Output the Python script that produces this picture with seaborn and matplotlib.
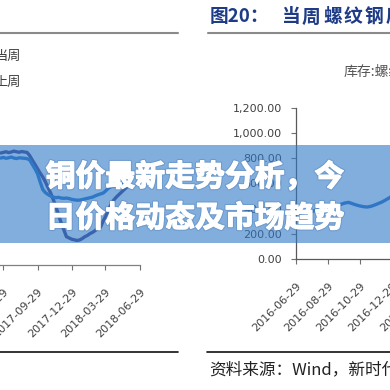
import numpy as np
import pandas as pd
import matplotlib
matplotlib.use('Agg')
import matplotlib.pyplot as plt
import matplotlib.patheffects as pe
from matplotlib.patches import Rectangle
from matplotlib.lines import Line2D
from matplotlib.ticker import FuncFormatter
import seaborn as sns

# left chart (weekly, partly cut off on the left)
left_dates = pd.date_range('2017-06-23', periods=49, freq='7D')
this_week = [890, 895, 900, 893, 898, 905, 900, 896, 902, 898,
             895, 870, 834, 800, 765, 730, 699, 660, 615, 572,
             520, 460, 400, 334, 280, 225, 215, 205, 200, 195,
             199, 210, 225, 235, 250, 260, 275, 290, 302, 350,
             390, 440, 480, 516, 540, 560, 580, 600, 620]
last_week = [850, 855, 848, 852, 858, 850, 846, 852, 850, 848,
             845, 836, 800, 765, 725, 660, 600, 575, 560, 548,
             540, 535, 538, 532, 530, 532, 528, 522, 518, 515,
             516, 520, 525, 530, 535, 540, 550, 558, 565, 572,
             590, 610, 622, 628, 632, 636, 640, 645, 650]
left_ticks = ['2017-06-29', '2017-09-29', '2017-12-29', '2018-03-29', '2018-06-29']
legend_labels = ['当周', '上周']

# right chart: rebar inventory
right_dates = pd.date_range('2016-07-01', periods=30, freq='7D')
stock = [360, 365, 372, 370, 378, 385, 390, 396, 402, 410,
         418, 425, 435, 445, 450, 440, 430, 422, 416, 413,
         418, 428, 440, 452, 468, 485, 505, 530, 560, 600]
right_ticks = ['2016-06-29', '2016-08-29', '2016-10-29', '2016-12-29',
               '2017-02-28', '2017-04-29', '2017-06-29']
y_ticks = [0, 200, 400, 600, 800, 1000, 1200]

title_no = '图20：'
title_text = '当周螺纹钢库存'
banner_lines = ['铜价最新走势分析，今', '日价格动态及市场趋势']

sns.set_theme(style='ticks')
plt.rcParams['font.family'] = ['DejaVu Sans']
cjk = ['Noto Sans CJK SC', 'DejaVu Sans']

W = 390.0


def fx(px):
    return px / W


def fy(py):
    return 1 - py / W


fig = plt.figure(figsize=(3.9, 3.9), dpi=100)
fig.patch.set_facecolor('white')

tick_kw = dict(labelsize=8, labelcolor='#404040', length=3.6, width=0.8, color='#707070')

# left chart
ax1 = fig.add_axes([fx(0), fy(265), fx(140), 151 / W])
sns.lineplot(x=left_dates, y=this_week, ax=ax1, color='#4a4585', lw=2.4)
sns.lineplot(x=left_dates, y=last_week, ax=ax1, color='#2f78c2', lw=2.4)
ax1.set_xlim(pd.Timestamp('2017-06-21'), pd.Timestamp('2018-06-29'))
ax1.set_ylim(0, 1200)
ax1.set_xticks(pd.to_datetime(left_ticks))
ax1.set_xticklabels(left_ticks, rotation=45, ha='right', rotation_mode='anchor')
ax1.tick_params(axis='x', pad=12, **tick_kw)
ax1.get_yaxis().set_visible(False)
ax1.set_xlabel('')
for s in ['left', 'top', 'right']:
    ax1.spines[s].set_visible(False)
ax1.spines['bottom'].set_color('#808080')
ax1.spines['bottom'].set_linewidth(0.9)
ax1.patch.set_alpha(0)

# right chart
ax2 = fig.add_axes([fx(296), fy(259), fx(204), 151 / W])
sns.lineplot(x=right_dates, y=stock, ax=ax2, color='#2f74c2', lw=2.4)
ax2.set_xlim(pd.Timestamp('2016-06-29'), pd.Timestamp('2017-07-22'))
ax2.set_ylim(0, 1200)
ax2.set_yticks(y_ticks)
ax2.yaxis.set_major_formatter(FuncFormatter(lambda v, p: f'{v:,.2f}'))
ax2.set_xticks(pd.to_datetime(right_ticks))
ax2.set_xticklabels(right_ticks, rotation=45, ha='right', rotation_mode='anchor')
ax2.tick_params(axis='x', pad=12, **tick_kw)
ax2.tick_params(axis='y', pad=6.5, **tick_kw)
for s in ['top', 'right']:
    ax2.spines[s].set_visible(False)
for s in ['left', 'bottom']:
    ax2.spines[s].set_color('#595959')
    ax2.spines[s].set_linewidth(0.9)
ax2.patch.set_alpha(0)
ax2.set_xlabel('')

# page furniture: rules, captions
fig.add_artist(Line2D([fx(0), fx(178)], [fy(33), fy(33)], color='#8a8a8a', lw=1.5))
fig.add_artist(Line2D([fx(208), fx(390)], [fy(33), fy(33)], color='#8a8a8a', lw=1.5))
fig.add_artist(Line2D([fx(0), fx(178)], [fy(352), fy(352)], color='#111111', lw=1.2))
fig.add_artist(Line2D([fx(207), fx(390)], [fy(352), fy(352)], color='#111111', lw=1.2))

fig.text(fx(210), fy(17), title_no, family=cjk, fontsize=13.5, fontweight='bold',
         color='#1d3b86', va='center', ha='left')
# the report title is set with wide letter spacing
for i, ch in enumerate(title_text):
    fig.text(fx(281 + 21 * i), fy(17), ch, family=cjk, fontsize=13.5, fontweight='bold',
             color='#1d3b86', va='center', ha='left')
fig.text(fx(344), fy(72), '库存:螺纹钢', family=cjk, fontsize=10, color='#555555',
         va='center', ha='left')
fig.text(fx(21), fy(56), legend_labels[0], family=cjk, fontsize=9.5, color='#404040',
         va='center', ha='right')
fig.text(fx(21), fy(82), legend_labels[1], family=cjk, fontsize=9.5, color='#404040',
         va='center', ha='right')
fig.text(fx(209), fy(370), '资料来源：Wind，新时代证券研究所', family=cjk, fontsize=12,
         color='#222222', va='center', ha='left')

# semi-transparent banner with title over it
fig.add_artist(Rectangle((0, fy(243)), 1, 98 / W, transform=fig.transFigure,
                         facecolor='#2f78c8', alpha=0.6, edgecolor='none', zorder=5))
effects = [pe.withStroke(linewidth=2.5, foreground='#4a78b0', alpha=0.35),
           pe.withStroke(linewidth=0.9, foreground='white')]
for i, line in enumerate(banner_lines):
    fig.text(0.5, fy(177 + 41 * i), line, family=cjk, fontsize=21.5, fontweight='bold',
             color='white', ha='center', va='center', zorder=6, path_effects=effects)

fig.savefig('out.png', dpi=100)
